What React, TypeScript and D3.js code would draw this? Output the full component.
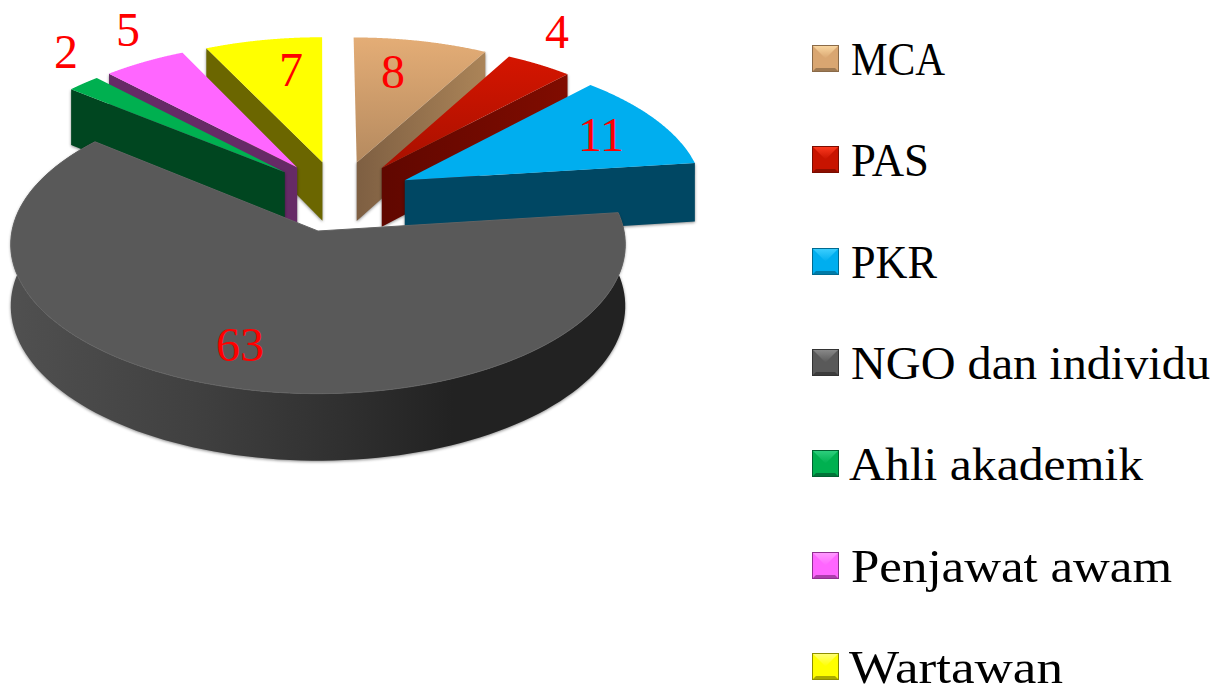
import React from "react";
import * as d3 from "d3";

const categories = ["MCA", "PAS", "PKR", "NGO dan individu", "Ahli akademik", "Penjawat awam", "Wartawan"];
const values = [8, 4, 11, 63, 2, 5, 7];
const topColors = ["#d9a671", "#c81400", "#00aeef", "#595959", "#00b050", "#ff66ff", "#ffff00"];
const wallColors = ["#8f6f4d", "#700a00", "#004763", "#333333", "#004620", "#662a66", "#6b6600"];
const legendLight = ["#fbd9a3", "#ff3b20", "#3fd0ff", "#8c8c8c", "#30d080", "#ff9cff", "#ffff80"];
const legendDark = ["#8a6a48", "#7a0c00", "#006a90", "#333333", "#006030", "#903090", "#8f8f00"];
const labelPos: [number, number][] = [[393, 88], [557, 48], [601, 151], [240, 361], [66, 68], [128, 46], [291, 86]];
const legendY = [60, 161, 263, 364, 465, 567, 668];
const legendWidths = [94, 78, 86, 359, 294, 321, 214];
const legendX = [851, 851, 851, 851, 849, 851, 849];

const W = 1216, H = 686;
const R = 306, RY = 148, K = 0.09, OX = 318, OY = 231;
const DEPTH = 61, EXPLODE = 0.25;
const CU = 0.279 * EXPLODE, CV = -0.96 * EXPLODE;

const scaleAt = (v: number) => 1 / (1 - K * v);
const project = (u: number, v: number): [number, number] => {
  const s = scaleAt(v);
  return [OX + R * u * s, OY + RY * v * s];
};

const arcs = d3.pie<number>().value((d) => d).sort(null)(values);

function slice(a: d3.PieArcDatum<number>) {
  const mid = (a.startAngle + a.endAngle) / 2;
  const au = CU + EXPLODE * Math.sin(mid);
  const av = CV - EXPLODE * Math.cos(mid);
  const pt = (t: number) => project(au + Math.sin(t), av - Math.cos(t));
  const dropAt = (t: number): [number, number] => {
    const p = pt(t);
    return [p[0], p[1] + DEPTH * scaleAt(av - Math.cos(t))];
  };
  const samples = d3.range(0, 121).map((i) => a.startAngle + ((a.endAngle - a.startAngle) * i) / 120);
  return {
    apex: project(au, av),
    apexDrop: [project(au, av)[0], project(au, av)[1] + DEPTH * scaleAt(av)] as [number, number],
    rim: samples.map(pt),
    rimDrop: samples.map(dropAt),
    start: pt(a.startAngle),
    end: pt(a.endAngle),
    startDrop: dropAt(a.startAngle),
    endDrop: dropAt(a.endAngle),
  };
}

const line = d3.line();
const closed = (pts: [number, number][]) => line(pts) + "Z";
const shadow = "drop-shadow(0px 1px 1.5px rgba(0,0,0,0.45))";

function LegendKey({ i, y }: { i: number; y: number }) {
  const x = 812, w = 27, h = 27, b = 4;
  return (
    <g>
      <rect x={x} y={y} width={w} height={h} fill={topColors[i]} />
      <path d={closed([[x, y], [x + w, y], [x + w / 2, y + h / 2]])} fill={`url(#lg${i})`} />
      <path d={closed([[x, y + h], [x + w, y + h], [x + w - b, y + h - b], [x + b, y + h - b]])} fill={legendDark[i]} opacity={0.75} />
      <rect x={x + 0.5} y={y + 0.5} width={w - 1} height={h - 1} fill="none" stroke={legendDark[i]} strokeWidth={1} />
    </g>
  );
}

export default function App() {
  const slices = arcs.map(slice);
  const order = [6, 5, 4, 0, 1, 2, 3];
  const font = "'Liberation Serif', serif";
  return (
    <svg width={W} height={H} style={{ position: "absolute", left: 0, top: 0, background: "#fff" }}>
      <defs>
        <linearGradient id="top0" x1="0" y1="0" x2="0" y2="1">
          <stop offset="0" stopColor="#e4ad76" /><stop offset="1" stopColor="#b58a5f" />
        </linearGradient>
        <linearGradient id="wall0" x1="0" y1="0" x2="1" y2="0">
          <stop offset="0" stopColor="#7e5f42" /><stop offset="1" stopColor="#ab8458" />
        </linearGradient>
        <linearGradient id="top1" x1="0" y1="0" x2="0" y2="1">
          <stop offset="0" stopColor="#d51500" /><stop offset="1" stopColor="#a81000" />
        </linearGradient>
        <linearGradient id="wall1" x1="0" y1="0" x2="1" y2="0">
          <stop offset="0" stopColor="#600700" /><stop offset="1" stopColor="#800c00" />
        </linearGradient>
        <linearGradient id="side" x1="0" y1="0" x2="1" y2="0">
          <stop offset="0" stopColor="#505050" /><stop offset="0.3" stopColor="#404040" />
          <stop offset="0.55" stopColor="#2f2f2f" /><stop offset="0.72" stopColor="#222222" />
          <stop offset="1" stopColor="#222222" />
        </linearGradient>
        {categories.map((_, i) => (
          <linearGradient key={i} id={`lg${i}`} x1="0" y1="0" x2="0" y2="1">
            <stop offset="0" stopColor={legendLight[i]} />
            <stop offset="1" stopColor={topColors[i]} />
          </linearGradient>
        ))}
      </defs>
      {order.map((i) => {
        const s = slices[i];
        if (i === 3) {
          const side = [...s.rim, ...s.rimDrop.slice().reverse()];
          return (
            <g key={i}>
              <path d={closed(side)} fill="url(#side)" style={{ filter: shadow }} />
              <path d={closed([s.apex, ...s.rim])} fill={topColors[i]} stroke="#636363" strokeWidth={1} />
            </g>
          );
        }
        const isRight = i < 3;
        const wall: [number, number][] = [s.apex, isRight ? s.end : s.start, isRight ? s.endDrop : s.startDrop, s.apexDrop];
        const wf = i === 0 ? "url(#wall0)" : i === 1 ? "url(#wall1)" : wallColors[i];
        const tf = i === 0 ? "url(#top0)" : i === 1 ? "url(#top1)" : topColors[i];
        return (
          <g key={i}>
            <path d={closed(wall)} fill={wf} style={{ filter: shadow }} />
            <path d={closed([s.apex, ...s.rim])} fill={tf} />
          </g>
        );
      })}
      {values.map((v, i) => (
        <text key={i} x={labelPos[i][0]} y={labelPos[i][1]} textAnchor="middle" fill="#ff0000"
          fontFamily={font} fontSize={48}>{v}</text>
      ))}
      {categories.map((c, i) => (
        <g key={c}>
          <LegendKey i={i} y={legendY[i] - 15} />
          <text x={legendX[i]} y={legendY[i] + 15} fontFamily={font} fontSize={46} fill="#000"
            textLength={legendWidths[i]} lengthAdjust="spacingAndGlyphs">{c}</text>
        </g>
      ))}
    </svg>
  );
}
